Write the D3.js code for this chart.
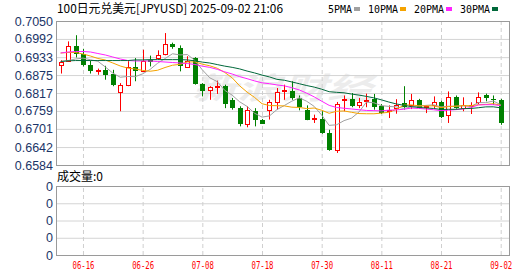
<!DOCTYPE html>
<html>
<head>
<meta charset="utf-8">
<script src="https://cdn.jsdelivr.net/npm/d3@7/dist/d3.min.js"></script>
<style>
  body { margin: 0; background: #ffffff; }
  svg { display: block; }
</style>
</head>
<body>
<div id="chart"></div>
<script>
// 100日元兑美元 日K, 06-11 ~ 09-02
var dates = ["06-11","06-12","06-13","06-16","06-17","06-18","06-19","06-20","06-23","06-24",
             "06-25","06-26","06-27","06-30","07-01","07-02","07-03","07-04","07-07","07-08",
             "07-09","07-10","07-11","07-14","07-15","07-16","07-17","07-18","07-21","07-22",
             "07-23","07-24","07-25","07-28","07-29","07-30","07-31","08-01","08-04","08-05",
             "08-06","08-07","08-08","08-11","08-12","08-13","08-14","08-15","08-18","08-19",
             "08-20","08-21","08-22","08-25","08-26","08-27","08-28","08-29","09-01","09-02"];

var opens = [0.6907,0.6922,0.6968,0.6943,0.6906,0.6889,0.6891,0.6878,0.6820,0.6844,
             0.6901,0.6887,0.6925,0.6930,0.6944,0.6977,0.6963,0.6901,0.6930,0.6846,
             0.6828,0.6835,0.6841,0.6793,0.6768,0.6718,0.6758,0.6731,0.6761,0.6787,
             0.6825,0.6825,0.6801,0.6763,0.6733,0.6733,0.6688,0.6634,0.6793,0.6798,
             0.6777,0.6790,0.6799,0.6774,0.6761,0.6768,0.6784,0.6777,0.6793,0.6771,
             0.6779,0.6788,0.6745,0.6804,0.6768,0.6774,0.6787,0.6812,0.6798,0.6795];
var highs = [0.6923,0.6984,0.7004,0.6960,0.6922,0.6896,0.6905,0.6892,0.6849,0.6920,
             0.6930,0.6957,0.6938,0.6955,0.7011,0.6980,0.6971,0.6936,0.6933,0.6849,
             0.6839,0.6857,0.6844,0.6801,0.6774,0.6774,0.6768,0.6733,0.6795,0.6833,
             0.6844,0.6855,0.6809,0.6777,0.6747,0.6758,0.6698,0.6788,0.6809,0.6817,
             0.6801,0.6815,0.6814,0.6781,0.6777,0.6797,0.6839,0.6814,0.6798,0.6777,
             0.6806,0.6792,0.6822,0.6809,0.6803,0.6787,0.6819,0.6815,0.6809,0.6798];
var lows = [0.6880,0.6920,0.6932,0.6903,0.6880,0.6876,0.6860,0.6839,0.6758,0.6839,
            0.6855,0.6886,0.6903,0.6925,0.6939,0.6960,0.6887,0.6898,0.6844,0.6806,
            0.6795,0.6814,0.6768,0.6763,0.6709,0.6706,0.6709,0.6717,0.6731,0.6763,
            0.6795,0.6795,0.6761,0.6729,0.6720,0.6685,0.6630,0.6623,0.6758,0.6771,
            0.6768,0.6771,0.6763,0.6749,0.6736,0.6750,0.6763,0.6765,0.6766,0.6752,
            0.6768,0.6736,0.6720,0.6766,0.6758,0.6749,0.6781,0.6790,0.6779,0.6714];
var closes = [0.6916,0.6968,0.6943,0.6909,0.6887,0.6891,0.6876,0.6844,0.6842,0.6900,
              0.6887,0.6922,0.6916,0.6941,0.6976,0.6965,0.6903,0.6922,0.6846,0.6824,
              0.6836,0.6841,0.6781,0.6768,0.6717,0.6761,0.6731,0.6718,0.6787,0.6819,
              0.6828,0.6801,0.6772,0.6731,0.6736,0.6688,0.6634,0.6782,0.6798,0.6776,
              0.6787,0.6795,0.6771,0.6752,0.6763,0.6779,0.6771,0.6793,0.6768,0.6774,
              0.6787,0.6739,0.6803,0.6768,0.6779,0.6777,0.6803,0.6801,0.6795,0.6720];

// moving averages as drawn on the chart
var ma5 = [0.6919,0.6922,0.6927,0.6930,0.69246,0.69196,0.69012,0.68814,0.68680,0.68706,
           0.68698,0.68790,0.68934,0.69132,0.69284,0.69440,0.69402,0.69414,0.69224,0.68920,
           0.68662,0.68538,0.68256,0.68100,0.67886,0.67736,0.67516,0.67390,0.67428,0.67632,
           0.67766,0.67906,0.68014,0.67902,0.67736,0.67456,0.67122,0.67142,0.67276,0.67356,
           0.67554,0.67876,0.67854,0.67762,0.67736,0.67720,0.67672,0.67716,0.67748,0.67770,
           0.67786,0.67722,0.67742,0.67742,0.67752,0.67732,0.67860,0.67856,0.67910,0.67792];
var ma10 = [0.69464,0.69481,0.69481,0.69432,0.69367,0.69287,0.69238,0.69141,0.69044,0.68976,
            0.68947,0.68901,0.68874,0.68906,0.68995,0.69069,0.69096,0.69174,0.69178,0.69102,
            0.69051,0.68970,0.68835,0.68662,0.68403,0.68199,0.68027,0.67823,0.67764,0.67759,
            0.67751,0.67711,0.67702,0.67665,0.67684,0.67611,0.67514,0.67578,0.67589,0.67546,
            0.67505,0.67499,0.67498,0.67519,0.67546,0.67637,0.67774,0.67785,0.67755,0.67753,
            0.67753,0.67697,0.67729,0.67745,0.67761,0.67759,0.67791,0.67799,0.67826,0.67772];
var ma20 = [0.69464,0.69497,0.69513,0.69513,0.69497,0.69448,0.69400,0.69335,0.69270,0.69222,
            0.69206,0.69206,0.69206,0.69189,0.69173,0.69157,0.69141,0.69124,0.69092,0.69039,
            0.68999,0.68936,0.68855,0.68784,0.68699,0.68634,0.68562,0.68499,0.68471,0.68431,
            0.68401,0.68341,0.68269,0.68164,0.68044,0.67905,0.67771,0.67701,0.67677,0.67653,
            0.67628,0.67605,0.67600,0.67592,0.67615,0.67624,0.67644,0.67682,0.67672,0.67650,
            0.67629,0.67598,0.67614,0.67632,0.67654,0.67698,0.67783,0.67792,0.67791,0.67763];
var ma30 = [0.6919,0.6921,0.6922,0.6922,0.6922,0.6922,0.6922,0.6922,0.6922,0.6922,
            0.6924,0.6924,0.6925,0.6925,0.6925,0.6925,0.6925,0.6924,0.6921,0.6917,
            0.6914,0.6909,0.6904,0.6900,0.6895,0.6888,0.6882,0.6875,0.6869,0.68612,
            0.68583,0.68527,0.68470,0.68411,0.68361,0.68293,0.68212,0.68192,0.68177,0.68136,
            0.68102,0.68060,0.68012,0.67949,0.67878,0.67816,0.67772,0.67729,0.67703,0.67686,
            0.67670,0.67636,0.67643,0.67643,0.67664,0.67669,0.67693,0.67721,0.67723,0.67690];

var priceTicks = [0.7050,0.6992,0.6933,0.6875,0.6817,0.6759,0.6701,0.6642,0.6584];
var dateTicks = ["06-16","06-26","07-08","07-18","07-30","08-11","08-21","09-02"];
var volumeTicks = [0,0,0,0,0];
var maNames = ["5PMA","10PMA","20PMA","30PMA"];
var maColors = ["#a0a0a0","#f5a300","#ff22ff","#00683a"];

var width = 530, height = 276,
    left = 56, right = 509,
    priceTop = 21, priceBottom = 165,
    volTop = 186, volBottom = 255,
    upColor = "#ff0000", downColor = "#008000",
    labelColor = "#1b3567";

var svg = d3.select("#chart").append("svg")
    .attr("width", width)
    .attr("height", height);

var x = d3.scalePoint()
    .domain(dates)
    .range([60.6, 500.7]);

var y = d3.scaleLinear()
    .domain([d3.min(priceTicks), d3.max(priceTicks)])
    .range([priceBottom, priceTop]);

var yVol = d3.scalePoint()
    .domain(d3.range(volumeTicks.length))
    .range([volTop, volBottom]);

svg.append("defs").append("clipPath")
    .attr("id", "price-clip")
  .append("rect")
    .attr("x", left)
    .attr("y", priceTop)
    .attr("width", right - left)
    .attr("height", priceBottom - priceTop);

// watermark
svg.append("text")
    .attr("x", 192)
    .attr("y", 99)
    .attr("textLength", 180)
    .attr("lengthAdjust", "spacingAndGlyphs")
    .style("font", "italic bold 30px 'Noto Sans CJK SC'")
    .style("fill", "#ececec")
    .text("新浪财经");

// price grid + labels
svg.append("g")
    .attr("transform", "translate(" + left + ",0)")
    .call(d3.axisLeft(y)
        .tickValues(priceTicks)
        .tickFormat(d3.format(".4f"))
        .tickSize(-(right - left))
        .tickPadding(3))
    .call(function(g) {
        g.select(".domain").remove();
        g.selectAll(".tick line").attr("stroke", "#d4d4d4");
        g.selectAll(".tick text")
            .attr("fill", labelColor)
            .style("font", "12.5px 'Liberation Sans', Arial, sans-serif");
    });

// volume grid + labels
svg.append("g")
    .attr("transform", "translate(" + left + ",0)")
    .call(d3.axisLeft(yVol)
        .tickFormat(function(d, i) { return volumeTicks[i]; })
        .tickSize(-(right - left))
        .tickPadding(3))
    .call(function(g) {
        g.select(".domain").remove();
        g.selectAll(".tick line").attr("stroke", "#d4d4d4");
        g.selectAll(".tick text")
            .attr("fill", labelColor)
            .style("font", "12.5px 'Liberation Sans', Arial, sans-serif");
    });

// dashed verticals in both panels
[[priceTop, priceBottom], [volTop, volBottom]].forEach(function(p) {
    svg.append("g")
        .attr("transform", "translate(0," + p[1] + ")")
        .call(d3.axisBottom(x)
            .tickValues(dateTicks)
            .tickFormat("")
            .tickSize(-(p[1] - p[0])))
        .call(function(g) {
            g.select(".domain").remove();
            g.selectAll(".tick line")
                .attr("stroke", "#cfcfcf")
                .attr("stroke-dasharray", "4,3");
        });
});

// date labels
svg.append("g")
    .attr("transform", "translate(0," + volBottom + ")")
    .call(d3.axisBottom(x)
        .tickValues(dateTicks)
        .tickSize(0)
        .tickPadding(7))
    .call(function(g) {
        g.select(".domain").remove();
        g.selectAll(".tick text")
            .attr("fill", upColor)
            .attr("textLength", 22)
            .attr("lengthAdjust", "spacingAndGlyphs")
            .style("font", "10px 'DejaVu Sans Mono', monospace");
    });

// frames
[[priceTop, priceBottom], [volTop, volBottom]].forEach(function(p) {
    svg.append("rect")
        .attr("x", left + 0.5)
        .attr("y", p[0] + 0.5)
        .attr("width", right - left)
        .attr("height", p[1] - p[0])
        .attr("fill", "none")
        .attr("stroke", "#9a9a9a");
});

// candles
var rows = dates.map(function(d, i) {
    return {date: d, open: opens[i], high: highs[i], low: lows[i], close: closes[i]};
});

var candle = svg.append("g")
    .attr("clip-path", "url(#price-clip)")
  .selectAll(".candle")
    .data(rows)
    .join("g")
    .attr("class", "candle")
    .attr("transform", function(d) { return "translate(" + (Math.round(x(d.date)) + 0.5) + ",0)"; });

function isUp(d) { return d.close >= d.open; }

candle.append("line")
    .attr("y1", function(d) { return y(d.high); })
    .attr("y2", function(d) { return y(d.low); })
    .attr("stroke", function(d) { return isUp(d) ? upColor : downColor; });

candle.append("rect")
    .attr("x", function(d) { return isUp(d) ? -2 : -2.5; })
    .attr("width", function(d) { return isUp(d) ? 4 : 5; })
    .attr("y", function(d) {
        var top = Math.round(y(Math.max(d.open, d.close)));
        return isUp(d) ? top + 0.5 : top;
    })
    .attr("height", function(d) {
        var h = Math.round(y(Math.min(d.open, d.close))) - Math.round(y(Math.max(d.open, d.close)));
        return Math.max(h, 1);
    })
    .attr("fill", function(d) { return isUp(d) ? "#ffffff" : downColor; })
    .attr("stroke", function(d) { return isUp(d) ? upColor : "none"; });

// moving average lines
var maLine = d3.line()
    .x(function(d, i) { return x(dates[i]); })
    .y(function(d) { return y(d); });

svg.append("g")
    .attr("clip-path", "url(#price-clip)")
  .selectAll("path")
    .data([ma5, ma10, ma20, ma30])
    .join("path")
    .attr("d", maLine)
    .attr("fill", "none")
    .attr("stroke", function(d, i) { return maColors[i]; })
    .attr("stroke-width", 1);

// title
svg.append("text")
    .attr("x", 57)
    .attr("y", 13)
    .attr("textLength", 226)
    .attr("lengthAdjust", "spacingAndGlyphs")
    .style("font", "12px 'Noto Sans CJK SC', sans-serif")
    .style("fill", "#000")
    .text("100日元兑美元[JPYUSD] 2025-09-02 21:06");

// legend
var cursor = 328;
maNames.forEach(function(name, i) {
    var w = name.length * 6;
    svg.append("text")
        .attr("x", cursor)
        .attr("y", 13)
        .attr("textLength", w)
        .attr("lengthAdjust", "spacingAndGlyphs")
        .style("font", "11px 'DejaVu Sans Mono', monospace")
        .style("fill", "#000")
        .text(name);
    svg.append("rect")
        .attr("x", cursor + w + 2)
        .attr("y", 7)
        .attr("width", 6)
        .attr("height", 4)
        .attr("fill", maColors[i]);
    cursor += w + 2 + 6 + 8;
});

// volume title
svg.append("text")
    .attr("x", 57)
    .attr("y", 181)
    .style("font", "12px 'Noto Sans CJK SC', sans-serif")
    .style("fill", "#000")
    .text("成交量:0");
</script>
</body>
</html>
